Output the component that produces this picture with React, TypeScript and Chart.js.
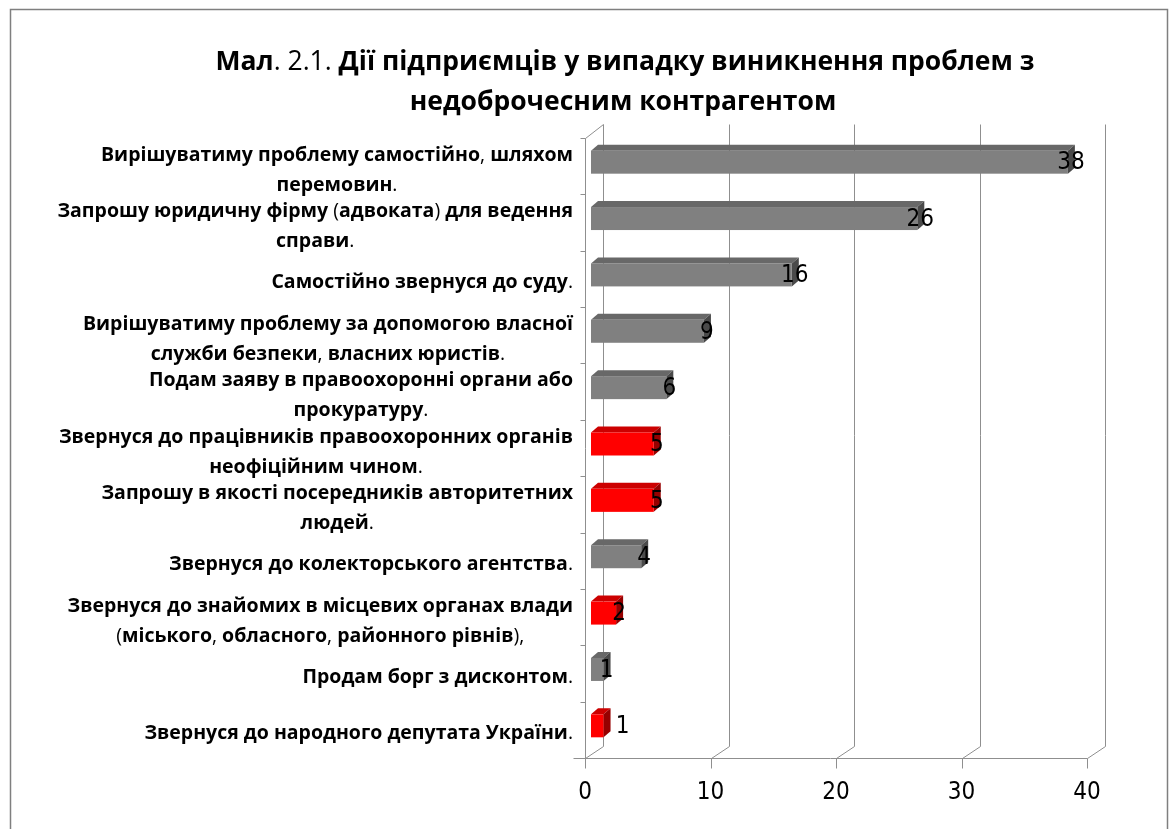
import React, { useEffect, useRef } from "react";
import { Chart, registerables } from "chart.js";

Chart.register(...registerables);

// ---- data ----
const categories: string[][] = [
  ["Вирішуватиму проблему самостійно, шляхом", "перемовин."],
  ["Запрошу юридичну фірму (адвоката) для ведення", "справи."],
  ["Самостійно звернуся до суду."],
  ["Вирішуватиму проблему за допомогою власної", "служби безпеки, власних юристів."],
  ["Подам заяву в правоохоронні органи або", "прокуратуру."],
  ["Звернуся до працівників правоохоронних органів", "неофіційним чином."],
  ["Запрошу в якості посередників авторитетних", "людей."],
  ["Звернуся до колекторського агентства."],
  ["Звернуся до знайомих в місцевих органах влади", "(міського, обласного, районного рівнів),"],
  ["Продам борг з дисконтом."],
  ["Звернуся до народного депутата України."],
];
const values: number[] = [38, 26, 16, 9, 6, 5, 5, 4, 2, 1, 1];
const highlighted: boolean[] = [false, false, false, false, false, true, true, false, true, false, true];
const xTicks: number[] = [0, 10, 20, 30, 40];
const titleLine1: [string, boolean][] = [
  ["Мал", true],
  [". 2.1. ", false],
  ["Дії підприємців у випадку виникнення проблем з", true],
];
const titleLine2 = "недоброчесним контрагентом";

// ---- styling ----
const W = 1171;
const H = 829;
const NARROW = "'Liberation Sans Narrow', 'DejaVu Sans Condensed', 'Open Sans', sans-serif";
const LABEL_FONT = "'Open Sans', sans-serif";
const DEPTH_X = 18;
const DEPTH_Y = -12;
const BAR_OX = 6;
const BAR_OY = -4;
const BAR_DX = 7;
const BAR_DY = -6;
const GRID = "#8f8f8f";

const COLORS = {
  grey: { front: "#808080", top: "#686868", side: "#4a4a4a" },
  red: { front: "#ff0000", top: "#cc0000", side: "#960000" },
};

function drawRuns(ctx: CanvasRenderingContext2D, runs: [string, boolean][], cx: number, y: number, size: number, family: string) {
  const widths = runs.map(([t, b]) => {
    ctx.font = `${b ? "bold " : ""}${size}px ${family}`;
    return ctx.measureText(t).width;
  });
  const total = widths.reduce((a, b) => a + b, 0);
  let x = cx - total / 2;
  ctx.textAlign = "left";
  ctx.textBaseline = "middle";
  runs.forEach(([t, b], i) => {
    ctx.font = `${b ? "bold " : ""}${size}px ${family}`;
    ctx.fillText(t, x, y);
    x += widths[i];
  });
  return total;
}

function splitRuns(line: string): [string, boolean][] {
  const out: [string, boolean][] = [];
  const re = /([.,()]+)|([^.,()]+)/g;
  let m: RegExpExecArray | null;
  while ((m = re.exec(line))) {
    if (m[1]) out.push([m[1], false]);
    else out.push([m[2], true]);
  }
  return out;
}

function measureRuns(ctx: CanvasRenderingContext2D, runs: [string, boolean][], size: number, family: string) {
  let w = 0;
  runs.forEach(([t, b]) => {
    ctx.font = `${b ? "bold " : ""}${size}px ${family}`;
    w += ctx.measureText(t).width;
  });
  return w;
}

const decorPlugin = {
  id: "decor3d",
  beforeDatasetsDraw(chart: any) {
    const ctx: CanvasRenderingContext2D = chart.ctx;
    const xs = chart.scales.x;
    const area = chart.chartArea;
    ctx.save();
    // outer border
    ctx.strokeStyle = "#7f7f7f";
    ctx.lineWidth = 1.5;
    ctx.strokeRect(10.5, 9.5, 1157, 900);

    ctx.strokeStyle = GRID;
    ctx.lineWidth = 1;
    const floorY = Math.round(area.bottom) + 0.5;
    const topY = Math.round(area.top) + 0.5;
    // back wall gridlines
    xTicks.forEach((v) => {
      const px = Math.round(xs.getPixelForValue(v)) + 0.5;
      ctx.beginPath();
      ctx.moveTo(px + DEPTH_X, topY + DEPTH_Y - 2);
      ctx.lineTo(px + DEPTH_X, floorY + DEPTH_Y);
      ctx.lineTo(px, floorY);
      ctx.lineTo(px, floorY + 10);
      ctx.stroke();
    });
    // floor front edge
    const x0 = Math.round(xs.getPixelForValue(0)) + 0.5;
    const x40 = Math.round(xs.getPixelForValue(40)) + 0.5;
    ctx.beginPath();
    ctx.moveTo(x0 - 12, floorY);
    ctx.lineTo(x40, floorY);
    ctx.stroke();
    // left wall front edge + top diagonal
    ctx.beginPath();
    ctx.moveTo(x0, floorY);
    ctx.lineTo(x0, topY);
    ctx.lineTo(x0 + DEPTH_X, topY + DEPTH_Y - 2);
    ctx.stroke();
    // category boundary ticks
    const n = categories.length;
    const step = (area.bottom - area.top) / n;
    for (let i = 0; i < n; i++) {
      const y = Math.round(area.top + i * step) + 0.5;
      ctx.beginPath();
      ctx.moveTo(x0 - 5, y);
      ctx.lineTo(x0, y);
      ctx.stroke();
    }
    ctx.restore();
  },
  afterDatasetsDraw(chart: any) {
    const ctx: CanvasRenderingContext2D = chart.ctx;
    const meta = chart.getDatasetMeta(0);
    ctx.save();
    meta.data.forEach((el: any, i: number) => {
      const { x, y, base, height } = el.getProps(["x", "y", "base", "height"], true);
      const c = highlighted[i] ? COLORS.red : COLORS.grey;
      const fx0 = base + BAR_OX;
      const fx1 = x + BAR_OX;
      const yT = y + BAR_OY - height / 2;
      const yB = y + BAR_OY + height / 2;
      // top
      ctx.fillStyle = c.top;
      ctx.beginPath();
      ctx.moveTo(fx0, yT);
      ctx.lineTo(fx0 + BAR_DX, yT + BAR_DY);
      ctx.lineTo(fx1 + BAR_DX, yT + BAR_DY);
      ctx.lineTo(fx1, yT);
      ctx.closePath();
      ctx.fill();
      // side
      ctx.fillStyle = c.side;
      ctx.beginPath();
      ctx.moveTo(fx1, yT);
      ctx.lineTo(fx1 + BAR_DX, yT + BAR_DY);
      ctx.lineTo(fx1 + BAR_DX, yB + BAR_DY);
      ctx.lineTo(fx1, yB);
      ctx.closePath();
      ctx.fill();
      // front
      ctx.fillStyle = c.front;
      ctx.fillRect(fx0, yT, fx1 - fx0, yB - yT);
      // value label
      ctx.fillStyle = "#000";
      ctx.font = `24px ${NARROW}`;
      ctx.textAlign = "center";
      ctx.textBaseline = "middle";
      const nudge = i === values.length - 1 ? 16 : 0;
      ctx.fillText(String(values[i]), fx1 + 3 + nudge, y + BAR_OY + 1);
    });

    // category labels
    const ys = chart.scales.y;
    const size = 19.5;
    ctx.fillStyle = "#000";
    categories.forEach((lines, i) => {
      const cy = ys.getPixelForValue(i) + 4;
      const runsList = lines.map(splitRuns);
      const widths = runsList.map((r) => measureRuns(ctx, r, size, LABEL_FONT));
      const bw = Math.max(...widths);
      const right = 573;
      const cx = right - bw / 2;
      const lh = 30;
      const y0 = cy - ((lines.length - 1) * lh) / 2;
      runsList.forEach((r, k) => drawRuns(ctx, r, cx, y0 + k * lh, size, LABEL_FONT));
    });

    // title
    drawRuns(ctx, titleLine1, 625, 62, 26.5, LABEL_FONT);
    drawRuns(ctx, [[titleLine2, true]], 623, 102, 26.5, LABEL_FONT);
    ctx.restore();
  },
};

export default function App() {
  const ref = useRef<HTMLCanvasElement | null>(null);
  useEffect(() => {
    if (!ref.current) return;
    const chart = new Chart(ref.current, {
      type: "bar",
      data: {
        labels: categories.map((c) => c.join(" ")),
        datasets: [
          {
            data: values,
            backgroundColor: "rgba(0,0,0,0)",
            borderWidth: 0,
            barThickness: 23,
          },
        ],
      },
      options: {
        indexAxis: "y",
        responsive: false,
        animation: false,
        devicePixelRatio: 1,
        layout: { padding: { left: 585, right: 84, top: 138, bottom: 0 } },
        plugins: { legend: { display: false }, tooltip: { enabled: false }, title: { display: false } },
        scales: {
          x: {
            min: 0,
            max: 40,
            afterBuildTicks: (s: any) => {
              s.ticks = xTicks.map((v) => ({ value: v }));
            },
            afterFit: (s: any) => {
              s.height = 71;
            },
            ticks: { padding: 20, color: "#000", font: { family: NARROW, size: 24 } },
            grid: { display: false, drawTicks: false },
            border: { display: false },
          },
          y: { display: false },
        },
      },
      plugins: [decorPlugin],
    } as any);
    return () => chart.destroy();
  }, []);
  return (
    <div style={{ position: "fixed", left: 0, top: 0, width: W, height: H, background: "#fff" }}>
      <canvas ref={ref} width={W} height={H} style={{ display: "block", width: W, height: H }} />
    </div>
  );
}
